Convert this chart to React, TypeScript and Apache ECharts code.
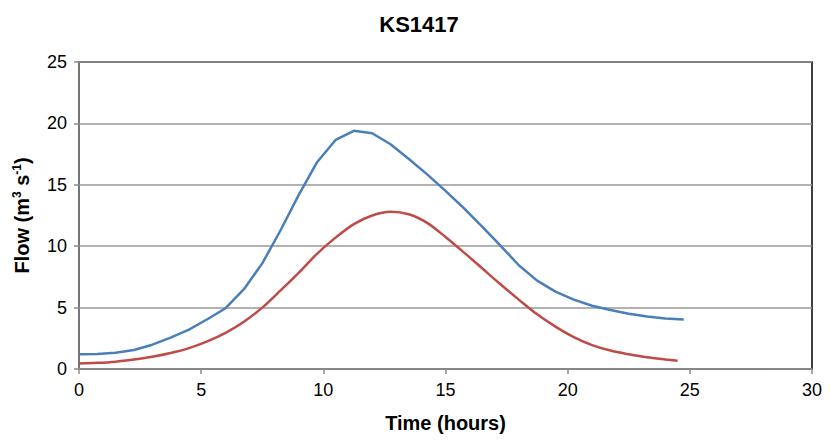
import React, { useEffect, useRef } from "react";
import * as echarts from "echarts";

const titleText = "KS1417";
const blueTimes = [0, 0.75, 1.5, 2.25, 3, 3.75, 4.5, 5.25, 6, 6.75, 7.5, 8.25, 9, 9.75, 10.5, 11.25, 12, 12.75, 13.5, 14.25, 15, 15.75, 16.5, 17.25, 18, 18.75, 19.5, 20.25, 21, 21.75, 22.5, 23.25, 24, 24.75];
const blueFlow = [1.2, 1.22, 1.32, 1.55, 1.98, 2.55, 3.2, 4.05, 4.95, 6.5, 8.6, 11.3, 14.2, 16.86, 18.65, 19.4, 19.2, 18.3, 17.1, 15.85, 14.5, 13.1, 11.6, 10.05, 8.45, 7.2, 6.3, 5.65, 5.15, 4.8, 4.5, 4.28, 4.12, 4.03];
const redTimes = [0, 0.75, 1.5, 2.25, 3, 3.75, 4.5, 5.25, 6, 6.75, 7.5, 8.25, 9, 9.75, 10.5, 11.25, 12, 12.75, 13.5, 14.25, 15, 15.75, 16.5, 17.25, 18, 18.75, 19.5, 20.25, 21, 21.75, 22.5, 23.25, 24, 24.5];
const redFlow = [0.45, 0.5, 0.6, 0.78, 1.0, 1.3, 1.7, 2.25, 2.95, 3.85, 5.0, 6.4, 7.85, 9.4, 10.7, 11.8, 12.5, 12.8, 12.6, 11.9, 10.75, 9.5, 8.2, 6.9, 5.65, 4.45, 3.45, 2.6, 1.95, 1.5, 1.2, 0.95, 0.78, 0.68];

const FONT = "'Liberation Sans', Arial, sans-serif";

export default function App() {
  const ref = useRef<HTMLDivElement>(null);
  useEffect(() => {
    if (!ref.current) return;
    const chart = echarts.init(ref.current, undefined, { renderer: "svg" });
    chart.setOption({
      animation: false,
      backgroundColor: "#fff",
      title: {
        text: titleText,
        left: 414,
        textAlign: "center",
        top: 8,
        textStyle: { fontFamily: FONT, fontSize: 22, fontWeight: "bold", color: "#000" },
      },
      grid: {
        left: 79,
        right: 18,
        top: 62,
        bottom: 77,
        show: true,
        borderColor: "#000",
        borderWidth: 1.5,
        backgroundColor: "transparent",
      },
      xAxis: {
        type: "value",
        min: 0,
        max: 30,
        interval: 5,
        name: "Time (hours)",
        nameLocation: "middle",
        nameGap: 44,
        nameTextStyle: { fontFamily: FONT, fontSize: 20, fontWeight: "bold", color: "#000" },
        axisLine: { lineStyle: { color: "#8a8a8a", width: 1.5 } },
        axisTick: { show: true, inside: false, length: 5, lineStyle: { color: "#8a8a8a", width: 1.5 } },
        axisLabel: { fontFamily: FONT, fontSize: 18, color: "#000", margin: 12 },
        splitLine: { show: false },
      },
      yAxis: {
        type: "value",
        min: 0,
        max: 25,
        interval: 5,
        name: "{b|Flow (m}{sup|3}{b| s}{sup|-1}{b|)}",
        nameLocation: "middle",
        nameRotate: 90,
        nameGap: 45,
        nameTextStyle: {
          fontFamily: FONT,
          color: "#000",
          rich: {
            b: { fontFamily: FONT, fontSize: 20, fontWeight: "bold", color: "#000", lineHeight: 24 },
            sup: { fontFamily: FONT, fontSize: 12, fontWeight: "bold", color: "#000", padding: [0, 0, 11, 0], lineHeight: 24 },
          },
        },
        axisLine: { show: true, lineStyle: { color: "#8a8a8a", width: 1.5 } },
        axisTick: { show: true, inside: false, length: 5, lineStyle: { color: "#8a8a8a", width: 1.5 } },
        axisLabel: { fontFamily: FONT, fontSize: 18, color: "#000", margin: 12 },
        splitLine: { show: true, lineStyle: { color: "#999", width: 1.5 } },
      },
      series: [
        {
          type: "line",
          data: blueTimes.map((t, i) => [t, blueFlow[i]]),
          showSymbol: false,
          lineStyle: { color: "#4A7EBB", width: 2.5 },
          itemStyle: { color: "#4A7EBB" },
          z: 3,
        },
        {
          type: "line",
          data: redTimes.map((t, i) => [t, redFlow[i]]),
          showSymbol: false,
          smooth: 0.3,
          lineStyle: { color: "#BE4B48", width: 2.5 },
          itemStyle: { color: "#BE4B48" },
          z: 2,
        },
      ],
    });
    return () => chart.dispose();
  }, []);
  return <div ref={ref} style={{ width: 830, height: 446, position: "absolute", left: 0, top: 0 }} />;
}
